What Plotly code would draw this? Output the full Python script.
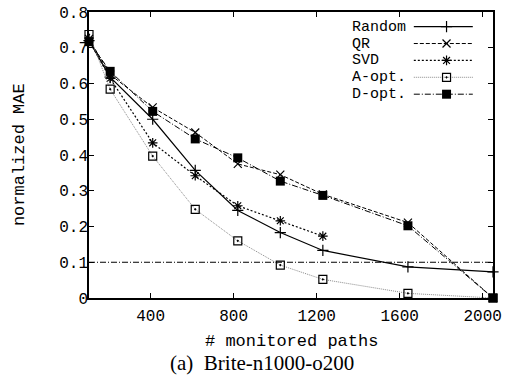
import plotly.graph_objects as go

# ---- data ----
paths = [103, 205, 410, 615, 820, 1025, 1230, 1640, 2050]
random_mae = [0.720, 0.618, 0.500, 0.357, 0.245, 0.183, 0.133, 0.087, 0.073]
qr_mae = [0.725, 0.625, 0.533, 0.463, 0.375, 0.345, 0.290, 0.211, 0.0]
svd_paths = [103, 205, 410, 615, 820, 1025, 1230]
svd_mae = [0.720, 0.614, 0.434, 0.342, 0.258, 0.216, 0.173]
aopt_mae = [0.737, 0.584, 0.397, 0.248, 0.160, 0.092, 0.052, 0.013, 0.0]
dopt_mae = [0.717, 0.634, 0.522, 0.445, 0.392, 0.327, 0.287, 0.202, 0.0]
threshold = 0.1

x_ticks = [400, 800, 1200, 1600, 2000]
y_ticks = [0, 0.1, 0.2, 0.3, 0.4, 0.5, 0.6, 0.7, 0.8]

MONO = "Liberation Mono, Courier New, monospace"
SERIF = "Liberation Serif, Times New Roman, serif"

series = [
    dict(name="Random", x=paths, y=random_mae, dash="solid", lc="black", lw=1.2,
         sym="cross-thin", ms=8, mw=1.2),
    dict(name="QR", x=paths, y=qr_mae, dash="4px,2px", lc="black", lw=1,
         sym="x-thin", ms=8, mw=1.2),
    dict(name="SVD", x=svd_paths, y=svd_mae, dash="2px,2px", lc="black", lw=1.2,
         sym="asterisk", ms=8, mw=1.2),
    dict(name="A-opt.", x=paths, y=aopt_mae, dash="1px,1px", lc="#8a8a8a", lw=1,
         sym="square-open-dot", ms=8, mw=1.2),
    dict(name="D-opt.", x=paths, y=dopt_mae, dash="6px,2px,1px,2px", lc="black", lw=1,
         sym="square", ms=9, mw=0),
]

fig = go.Figure()
for s in series:
    fig.add_trace(go.Scatter(
        x=s["x"], y=s["y"], mode="lines+markers", name=s["name"],
        line=dict(color=s["lc"], width=s["lw"], dash=s["dash"]),
        marker=dict(symbol=s["sym"], size=s["ms"], color="black",
                    line=dict(color="black", width=s["mw"])),
        cliponaxis=False, showlegend=False,
    ))

# threshold line
fig.add_shape(type="line", xref="paper", x0=0, x1=1, yref="y", y0=threshold, y1=threshold,
              line=dict(color="black", width=1, dash="6px,2px,1px,2px"))

# custom legend (text left, sample right) on an overlay axis
leg_rows = [0.9488, 0.8898, 0.8307, 0.7717, 0.7126]
for s, ry in zip(series, leg_rows):
    fig.add_trace(go.Scatter(
        x=[0.804, 0.95], y=[ry, ry], xaxis="x2", yaxis="y2", mode="lines",
        line=dict(color=s["lc"], width=s["lw"], dash=s["dash"]),
        showlegend=False, hoverinfo="skip", cliponaxis=False))
    fig.add_trace(go.Scatter(
        x=[0.885], y=[ry], xaxis="x2", yaxis="y2", mode="markers",
        marker=dict(symbol=s["sym"], size=s["ms"], color="black",
                    line=dict(color="black", width=s["mw"])),
        showlegend=False, hoverinfo="skip", cliponaxis=False))
    fig.add_annotation(xref="paper", yref="paper", x=0.6485, y=ry, text=s["name"],
                       showarrow=False, xanchor="left", yanchor="middle",
                       height=14, borderpad=0,
                       font=dict(family=MONO, size=15, color="black"))

axis_common = dict(showgrid=False, zeroline=False, showline=True, linecolor="black",
                   linewidth=1.5, mirror="ticks", ticks="inside", ticklen=5,
                   tickwidth=1, tickcolor="black", ticklabeloverflow="allow",
                   tickfont=dict(family=MONO, size=16, color="black"))

fig.update_layout(
    width=514, height=380,
    margin=dict(l=89, r=21, t=5, b=82),
    paper_bgcolor="white", plot_bgcolor="white",
    xaxis=dict(range=[paths[0], paths[-1]], tickvals=x_ticks, ticklabelstandoff=2,
               ticktext=[str(v) for v in x_ticks], **axis_common),
    yaxis=dict(range=[0, 0.8], tickvals=y_ticks, ticklabelstandoff=-4,
               ticktext=[f"{v:g}" for v in y_ticks], **axis_common),
    xaxis2=dict(range=[0, 1], overlaying="x", visible=False, fixedrange=True),
    yaxis2=dict(range=[0, 1], overlaying="y", visible=False, fixedrange=True),
    showlegend=False,
)

fig.add_annotation(xref="paper", yref="paper", x=0.5, y=-0.1526, text="# monitored paths",
                   showarrow=False, xanchor="center", yanchor="middle",
                   font=dict(family=MONO, size=17, color="black"))
fig.add_annotation(xref="paper", yref="paper", x=(261.5 - 89) / 404, y=-0.2287,
                   text="(a)\u00a0\u00a0Brite-n1000-o200",
                   showarrow=False, xanchor="center", yanchor="middle",
                   font=dict(family=SERIF, size=21, color="black"))
fig.add_annotation(xref="paper", yref="paper", x=-0.173, y=0.5, text="normalized MAE",
                   textangle=-90, showarrow=False, xanchor="center", yanchor="middle",
                   font=dict(family=MONO, size=17, color="black"))

fig.write_html("out.html", config={"displayModeBar": False},
               post_script="document.body.style.margin='0';document.body.style.overflow='hidden';")
